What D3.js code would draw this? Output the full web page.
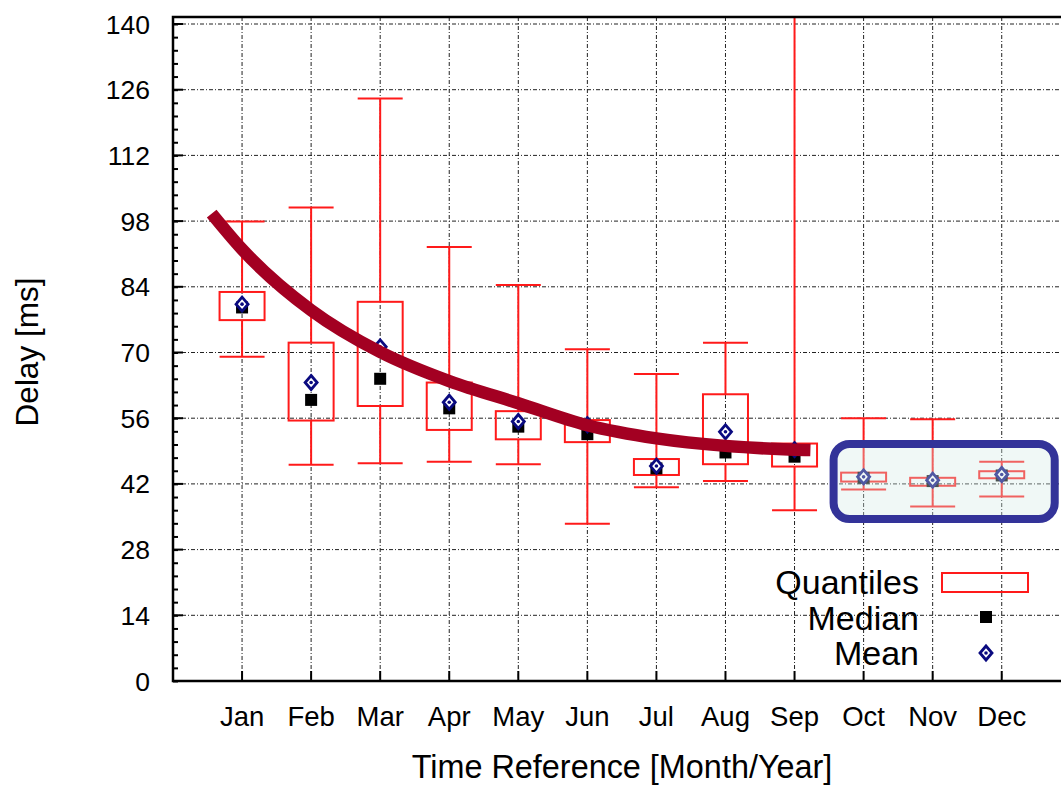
<!DOCTYPE html>
<html>
<head>
<meta charset="utf-8">
<script src="https://cdn.jsdelivr.net/npm/d3@7"></script>
<style>
    body { margin: 0; background: #fff; }
    svg { display: block; font-family: 'Liberation Sans', Arial, sans-serif; }
</style>
</head>
<body>
<svg class="d3" width="1061" height="785"></svg>
<script>
const months = ['Jan', 'Feb', 'Mar', 'Apr', 'May', 'Jun', 'Jul', 'Aug', 'Sep', 'Oct', 'Nov', 'Dec'];
const whiskerLow = [69.1, 46.1, 46.4, 46.7, 46.2, 33.5, 41.3, 42.6, 36.4, 40.8, 37.2, 39.3];
const q1 = [76.9, 55.5, 58.6, 53.5, 51.5, 50.9, 43.9, 46.2, 45.7, 42.5, 41.6, 43.2];
const median = [79.6, 59.9, 64.4, 58.1, 54.2, 52.6, 45.3, 48.7, 47.8, 43.3, 42.6, 43.8];
const mean = [80.3, 63.6, 71.2, 59.4, 55.3, 54.6, 45.8, 53.1, 49.3, 43.5, 42.8, 44.0];
const q3 = [82.9, 72.1, 80.8, 63.6, 57.5, 55.6, 47.3, 61.1, 50.6, 44.4, 43.3, 44.7];
const whiskerHigh = [97.9, 100.9, 124.1, 92.5, 84.4, 70.7, 65.4, 72.1, 150, 56.0, 55.8, 46.7];

// fitted trend (x in month positions, Jan = 1)
const trendX = [0.56, 1, 2, 3, 4, 5, 6, 7, 8, 9, 9.23];
const trendY = [99.6, 92.0, 79.0, 70.1, 63.9, 59.2, 54.5, 51.7, 50.1, 49.3, 49.2];

const yTicks = [0, 14, 28, 42, 56, 70, 84, 98, 112, 126, 140];
const highlighted = ['Oct', 'Nov', 'Dec'];

const svg = d3.select('svg.d3');
const plotLeft = 173, plotTop = 17, plotBottom = 681;
const step = 69.06;

const x = d3.scaleLinear().domain([0, 13]).range([plotLeft, plotLeft + 13 * step]);
const y = d3.scaleLinear().domain([0, 140]).range([plotBottom, 24]);
const bw = 45;

const data = months.map((m, i) => ({
    m, i: i + 1,
    lo: whiskerLow[i], q1: q1[i], med: median[i], mean: mean[i], q3: q3[i], hi: whiskerHigh[i]
}));

svg.append('defs').append('clipPath').attr('id', 'plot')
    .append('rect').attr('x', plotLeft).attr('y', plotTop)
    .attr('width', 1061 - plotLeft).attr('height', plotBottom - plotTop);

// grid
const grid = svg.append('g')
    .attr('stroke', '#222').attr('stroke-width', 1).attr('stroke-dasharray', '4,2,1,2');
grid.selectAll('line.h').data(yTicks.filter(d => d > 0)).enter().append('line')
    .attr('x1', plotLeft).attr('x2', 1061)
    .attr('y1', d => y(d)).attr('y2', d => y(d));
grid.selectAll('line.v').data(d3.range(1, 13)).enter().append('line')
    .attr('x1', d => x(d)).attr('x2', d => x(d))
    .attr('y1', plotTop).attr('y2', plotBottom);

// boxes
const plot = svg.append('g').attr('clip-path', 'url(#plot)');
const red = '#ff1a1a';
const box = plot.selectAll('g.box').data(data).enter().append('g')
    .attr('stroke', red).attr('stroke-width', 2).attr('fill', 'none');
box.append('line')
    .attr('x1', d => x(d.i)).attr('x2', d => x(d.i))
    .attr('y1', d => y(d.hi)).attr('y2', d => y(d.q3));
box.append('line')
    .attr('x1', d => x(d.i)).attr('x2', d => x(d.i))
    .attr('y1', d => y(d.q1)).attr('y2', d => y(d.lo));
box.append('line')
    .attr('x1', d => x(d.i) - bw / 2).attr('x2', d => x(d.i) + bw / 2)
    .attr('y1', d => y(d.hi)).attr('y2', d => y(d.hi));
box.append('line')
    .attr('x1', d => x(d.i) - bw / 2).attr('x2', d => x(d.i) + bw / 2)
    .attr('y1', d => y(d.lo)).attr('y2', d => y(d.lo));
box.append('rect')
    .attr('x', d => x(d.i) - bw / 2).attr('width', bw)
    .attr('y', d => y(d.q3)).attr('height', d => y(d.q1) - y(d.q3));

// median / mean markers
const diamond = 'M0,-7L6,0L0,7L-6,0Z';
plot.selectAll('rect.med').data(data).enter().append('rect')
    .attr('x', d => x(d.i) - 6).attr('y', d => y(d.med) - 6)
    .attr('width', 12).attr('height', 12).attr('fill', '#000');
const meanG = plot.selectAll('g.mean').data(data).enter().append('g')
    .attr('transform', d => `translate(${x(d.i)},${y(d.mean)})`);
meanG.append('path').attr('d', diamond)
    .attr('fill', '#fff').attr('stroke', '#0a0a80').attr('stroke-width', 2.8);
meanG.append('circle').attr('r', 1.8).attr('fill', '#0a0a80');

// trend curve
const trend = trendX.map((v, i) => [v, trendY[i]]);
plot.append('path')
    .datum(trend)
    .attr('d', d3.line().x(d => x(d[0])).y(d => y(d[1])).curve(d3.curveMonotoneX))
    .attr('fill', 'none').attr('stroke', '#a30022').attr('stroke-width', 12.5);

// highlight of the last quarter
const hi0 = months.indexOf(highlighted[0]) + 1;
const hi1 = months.indexOf(highlighted[highlighted.length - 1]) + 1;
svg.append('rect')
    .attr('x', x(hi0) - 30).attr('y', 444)
    .attr('width', x(hi1) - x(hi0) + 83).attr('height', 75)
    .attr('rx', 16)
    .attr('fill', 'rgb(212,235,229)').attr('fill-opacity', 0.35)
    .attr('stroke', '#333399').attr('stroke-width', 8);

// axes
const yAxis = svg.append('g').attr('transform', `translate(${plotLeft},0)`);
yAxis.call(d3.axisRight(y).tickValues(d3.range(0, 140.01, 2.8)).tickSize(5).tickFormat(''))
    .call(g => g.select('.domain').remove())
    .call(g => g.selectAll('line').attr('stroke', '#000').attr('stroke-width', 2));
yAxis.selectAll('line.major').data(yTicks).enter().append('line')
    .attr('x1', 0).attr('x2', 10)
    .attr('y1', d => y(d)).attr('y2', d => y(d))
    .attr('stroke', '#000').attr('stroke-width', 2);
yAxis.selectAll('text.lab').data(yTicks).enter().append('text')
    .attr('x', -23).attr('y', d => y(d) + 9.5)
    .attr('text-anchor', 'end').attr('font-size', 26.5).attr('fill', '#000')
    .text(d => d);

const xAxis = svg.append('g');
xAxis.selectAll('line').data(data).enter().append('line')
    .attr('x1', d => x(d.i)).attr('x2', d => x(d.i))
    .attr('y1', plotBottom).attr('y2', plotBottom - 10)
    .attr('stroke', '#000').attr('stroke-width', 2);
xAxis.selectAll('text').data(data).enter().append('text')
    .attr('x', d => x(d.i)).attr('y', 726)
    .attr('text-anchor', 'middle').attr('font-size', 27.5).attr('fill', '#000')
    .text(d => d.m);

// frame
svg.append('path')
    .attr('d', `M1061,${plotTop}H${plotLeft}V${plotBottom}H1061`)
    .attr('fill', 'none').attr('stroke', '#000').attr('stroke-width', 2.5);

// titles
svg.append('text')
    .attr('x', 622).attr('y', 778).attr('text-anchor', 'middle')
    .attr('font-size', 32.4).text('Time Reference [Month/Year]');
svg.append('text')
    .attr('transform', 'translate(38,352) rotate(-90)').attr('text-anchor', 'middle')
    .attr('font-size', 31.5).text('Delay [ms]');

// legend
const legend = svg.append('g');
const legendItems = ['Quantiles', 'Median', 'Mean'];
legend.selectAll('text').data(legendItems).enter().append('text')
    .attr('x', 919).attr('y', (d, i) => 594 + i * 35.7)
    .attr('text-anchor', 'end').attr('font-size', 34).text(d => d);
legend.append('rect').attr('x', 942).attr('y', 573).attr('width', 86).attr('height', 19)
    .attr('fill', 'none').attr('stroke', red).attr('stroke-width', 2);
legend.append('rect').attr('x', 980).attr('y', 611).attr('width', 12).attr('height', 12).attr('fill', '#000');
const lm = legend.append('g').attr('transform', 'translate(986,653)');
lm.append('path').attr('d', diamond)
    .attr('fill', '#fff').attr('stroke', '#0a0a80').attr('stroke-width', 2.8);
lm.append('circle').attr('r', 1.8).attr('fill', '#0a0a80');
</script>
</body>
</html>
